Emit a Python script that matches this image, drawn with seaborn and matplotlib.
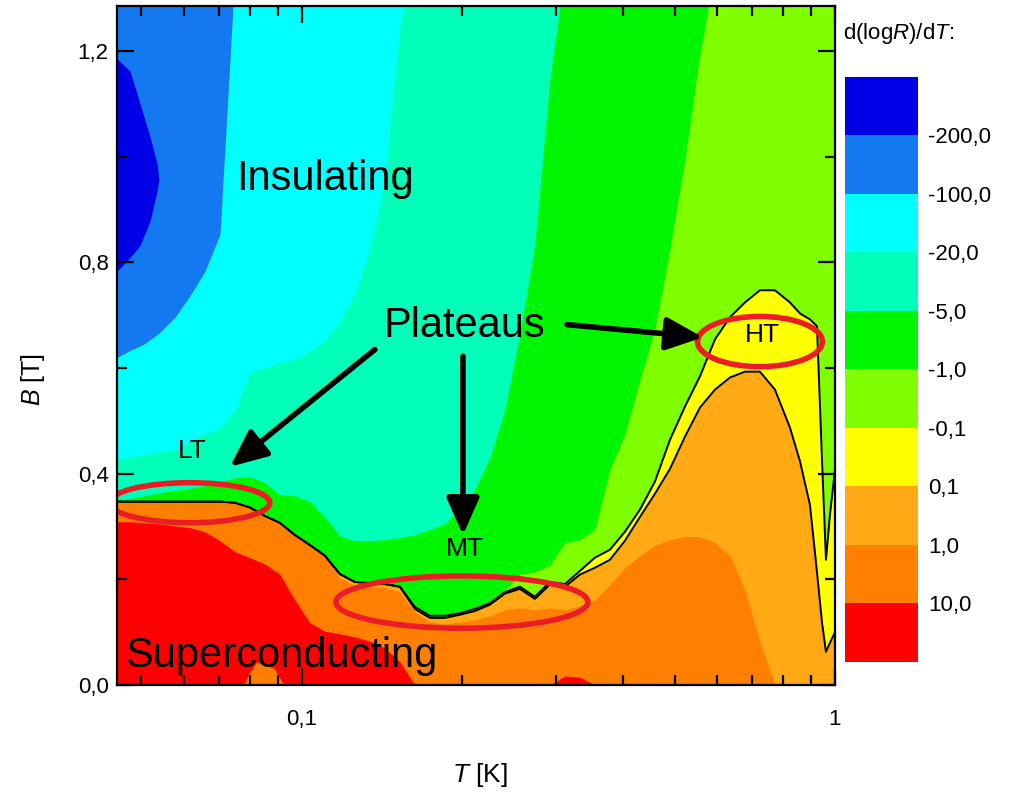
import numpy as np
import matplotlib
matplotlib.use("Agg")
import matplotlib.pyplot as plt
import matplotlib.cm as cm
import seaborn as sns
from matplotlib.colors import ListedColormap, BoundaryNorm
from matplotlib.patches import Ellipse
from matplotlib.ticker import NullFormatter

sns.set_style("ticks")
plt.rcParams["font.family"] = ["Liberation Sans", "DejaVu Sans"]
plt.rcParams["mathtext.fontset"] = "custom"
plt.rcParams["mathtext.rm"] = "Liberation Sans"
plt.rcParams["mathtext.it"] = "Liberation Sans:italic"
plt.rcParams["text.color"] = "black"
plt.rcParams["axes.labelcolor"] = "black"
plt.rcParams["xtick.color"] = "black"
plt.rcParams["ytick.color"] = "black"

# ---------------- data ----------------
# temperature columns [K]
T = [0.0450, 0.0476, 0.0507, 0.0541, 0.0578, 0.0616, 0.0658, 0.0702, 0.0749, 0.0799,
     0.0852, 0.0909, 0.0970, 0.1035, 0.1104, 0.1178, 0.1257, 0.1341, 0.1431, 0.1527,
     0.1629, 0.1738, 0.1854, 0.1979, 0.2111, 0.2253, 0.2404, 0.2564, 0.2736, 0.2919,
     0.3115, 0.3323, 0.3546, 0.3783, 0.4036, 0.4307, 0.4595, 0.4903, 0.5231, 0.5581,
     0.5955, 0.6354, 0.6779, 0.7232, 0.7717, 0.8233, 0.8600, 0.8976, 0.9252, 0.9454,
     0.9618, 0.9786, 1.0000]

# field B [T] of the level boundaries at each temperature (bottom -> top)
b_red = [0.309, 0.309, 0.307, 0.305, 0.301, 0.298, 0.290, 0.273, 0.252, 0.241,
         0.229, 0.210, 0.161, 0.118, 0.102, 0.097, 0.091, 0.083, 0.070, 0.044,
         0, 0, 0, 0, 0, 0, 0, 0, 0, 0,
         0.017, 0.015, 0, 0, 0, 0, 0, 0, 0, 0,
         0, 0, 0, 0, 0, 0, 0, 0, 0, 0,
         0, 0, 0]
b_orange = [0.347, 0.347, 0.347, 0.347, 0.347, 0.347, 0.347, 0.347, 0.345, 0.336,
            0.320, 0.307, 0.284, 0.265, 0.245, 0.203, 0.188, 0.186, 0.184, 0.176,
            0.138, 0.119, 0.116, 0.119, 0.123, 0.131, 0.142, 0.146, 0.142, 0.146,
            0.142, 0.150, 0.161, 0.190, 0.222, 0.245, 0.264, 0.275, 0.281, 0.281,
            0.269, 0.245, 0.180, 0.082, 0, 0, 0, 0, 0, 0,
            0, 0, 0]
b_lo_y = [0.347, 0.347, 0.347, 0.347, 0.347, 0.347, 0.347, 0.347, 0.345, 0.336,
          0.320, 0.307, 0.284, 0.265, 0.245, 0.210, 0.195, 0.193, 0.191, 0.186,
          0.144, 0.127, 0.127, 0.133, 0.140, 0.152, 0.173, 0.182, 0.163, 0.190,
          0.186, 0.209, 0.222, 0.237, 0.273, 0.318, 0.362, 0.409, 0.470, 0.525,
          0.559, 0.582, 0.593, 0.593, 0.559, 0.487, 0.423, 0.341, 0.214, 0.119,
          0.063, 0.080, 0.100]
b_y_lg = [0.347, 0.347, 0.347, 0.347, 0.347, 0.347, 0.347, 0.347, 0.345, 0.336,
          0.320, 0.307, 0.284, 0.265, 0.245, 0.210, 0.195, 0.193, 0.191, 0.186,
          0.148, 0.131, 0.131, 0.136, 0.144, 0.155, 0.176, 0.186, 0.167, 0.195,
          0.191, 0.216, 0.241, 0.256, 0.290, 0.332, 0.385, 0.464, 0.527, 0.584,
          0.654, 0.696, 0.724, 0.747, 0.747, 0.724, 0.703, 0.692, 0.679, 0.427,
          0.237, 0.322, 0.408]
b_lg_g = [0.347, 0.347, 0.347, 0.347, 0.347, 0.347, 0.347, 0.347, 0.345, 0.336,
          0.320, 0.307, 0.284, 0.265, 0.245, 0.210, 0.195, 0.193, 0.191, 0.186,
          0.148, 0.131, 0.131, 0.136, 0.144, 0.155, 0.180, 0.209, 0.214, 0.227,
          0.269, 0.275, 0.294, 0.408, 0.474, 0.578, 0.673, 0.825, 0.995, 1.194,
          1.35, 1.35, 1.35, 1.35, 1.35, 1.35, 1.35, 1.35, 1.35, 1.35,
          1.35, 1.35, 1.35]
b_g_a = [0.351, 0.353, 0.358, 0.364, 0.368, 0.372, 0.377, 0.385, 0.392, 0.394,
         0.383, 0.360, 0.358, 0.347, 0.318, 0.282, 0.273, 0.273, 0.275, 0.279,
         0.284, 0.294, 0.305, 0.332, 0.370, 0.430, 0.521, 0.664, 0.834, 1.147,
         1.35, 1.35, 1.35, 1.35, 1.35, 1.35, 1.35, 1.35, 1.35, 1.35,
         1.35, 1.35, 1.35, 1.35, 1.35, 1.35, 1.35, 1.35, 1.35, 1.35,
         1.35, 1.35, 1.35]
b_a_c = [0.427, 0.432, 0.436, 0.442, 0.445, 0.461, 0.476, 0.485, 0.521, 0.591,
         0.601, 0.609, 0.618, 0.631, 0.652, 0.688, 0.739, 0.825, 0.957, 1.25,
         1.35, 1.35, 1.35, 1.35, 1.35, 1.35, 1.35, 1.35, 1.35, 1.35,
         1.35, 1.35, 1.35, 1.35, 1.35, 1.35, 1.35, 1.35, 1.35, 1.35,
         1.35, 1.35, 1.35, 1.35, 1.35, 1.35, 1.35, 1.35, 1.35, 1.35,
         1.35, 1.35, 1.35]
b_c_b = [0.620, 0.633, 0.646, 0.667, 0.696, 0.736, 0.783, 0.853, 1.35, 1.35,
         1.35, 1.35, 1.35, 1.35, 1.35, 1.35, 1.35, 1.35, 1.35, 1.35,
         1.35, 1.35, 1.35, 1.35, 1.35, 1.35, 1.35, 1.35, 1.35, 1.35,
         1.35, 1.35, 1.35, 1.35, 1.35, 1.35, 1.35, 1.35, 1.35, 1.35,
         1.35, 1.35, 1.35, 1.35, 1.35, 1.35, 1.35, 1.35, 1.35, 1.35,
         1.35, 1.35, 1.35]

# dark-blue island (< -200) at the upper left
T_blob = [0.0450, 0.0476, 0.0497, 0.0519, 0.0535, 0.0539]
blob_low = [0.783, 0.809, 0.832, 0.878, 0.935, 0.957]
blob_high = [1.185, 1.162, 1.100, 1.037, 0.986, 0.957]

# small orange patch inside the red region at the bottom
T_patch = [0.0778, 0.0799, 0.0823, 0.0886, 0.0925]
patch_high = [0.0, 0.025, 0.044, 0.032, 0.0]

level_values = [-200, -100, -20, -5, -1, -0.1, 0.1, 1, 10]
level_labels = ["-200,0", "-100,0", "-20,0", "-5,0", "-1,0", "-0,1", "0,1", "1,0", "10,0"]
class_colors = ["#0000E6", "#1478F0", "#00FFFF", "#00FFB9", "#00F500",
                "#7FFF00", "#FFFF00", "#FFA914", "#FF8000", "#FF0000"]

# ---------------- figure ----------------
fig = plt.figure(figsize=(10.23, 7.97), dpi=100)
ax = fig.add_axes([0.1144, 0.1405, 0.7018, 0.852])
ax.set_xscale("log")
ax.set_xlim(0.045, 1.0)
ax.set_ylim(0, 1.285)

TOP = 1.35
Ta = np.array(T)
zeros = np.zeros(len(T))
lowers = [zeros, b_red, b_orange, b_lo_y, b_y_lg, b_lg_g, b_g_a, b_a_c, b_c_b]
cols_up = class_colors[::-1][:9]  # red ... blue
for low, col in zip(lowers, cols_up):
    ax.fill_between(Ta, np.array(low, float), TOP, color=col, lw=0, zorder=1)
ax.fill_between(T_blob, blob_low, blob_high, color=class_colors[0], lw=0, zorder=1.1)
ax.fill_between(T_patch, 0, patch_high, color=class_colors[8], lw=0, zorder=1.1)

sns.lineplot(x=Ta, y=b_lo_y, color="black", lw=1.4, ax=ax, zorder=2)
sns.lineplot(x=Ta, y=b_y_lg, color="black", lw=1.4, ax=ax, zorder=2)

# ticks
ax.set_xticks([0.1, 1.0], labels=["0,1", "1"])
ax.set_xticks([0.05, 0.06, 0.07, 0.08, 0.09, 0.2, 0.3, 0.4, 0.5, 0.6, 0.7, 0.8, 0.9], minor=True)
ax.xaxis.set_minor_formatter(NullFormatter())
ax.set_yticks([0, 0.4, 0.8, 1.2], labels=["0,0", "0,4", "0,8", "1,2"])
ax.set_yticks([0.2, 0.6, 1.0], minor=True)
ax.set_axisbelow(False)
ax.tick_params(which="both", direction="in", top=True, right=True, width=1.6, color="black")
ax.tick_params(which="major", length=12, labelsize=16, labelcolor="black")
ax.tick_params(axis="x", which="major", pad=17)
ax.tick_params(axis="y", which="major", pad=6)
ax.tick_params(which="minor", length=7)
for s in ax.spines.values():
    s.set_linewidth(1.6)
    s.set_color("black")
    s.set_zorder(5)

ax.set_xlabel("$T$ [K]", fontsize=19)
ax.set_ylabel("$B$ [T]", fontsize=18)
ax.xaxis.set_label_coords(0.506, -0.112)
ax.yaxis.set_label_coords(-0.097, 0.45)

# annotations
def data_to_axes(t, b):
    return ax.transAxes.inverted().transform(ax.transData.transform((t, b)))

ell_red = "#EC1C24"
for (t, b, w, h) in [(0.0616, 0.345, 0.223, 0.059), (0.1996, 0.157, 0.351, 0.077), (0.7232, 0.650, 0.174, 0.074)]:
    c = data_to_axes(t, b)
    ax.add_patch(Ellipse(c, w, h, transform=ax.transAxes, fill=False, ec=ell_red, lw=4, zorder=3))

ax.text(0.1104, 0.957, "Insulating", fontsize=30, ha="center", va="center", zorder=4)
ax.text(0.2022, 0.679, "Plateaus", fontsize=30, ha="center", va="center", zorder=4)
ax.text(0.0913, 0.055, "Superconducting", fontsize=30, ha="center", va="center", zorder=4)
ax.text(0.0623, 0.442, "LT", fontsize=19, ha="center", va="center", zorder=4)
ax.text(0.2022, 0.258, "MT", fontsize=19, ha="center", va="center", zorder=4)
ax.text(0.7323, 0.662, "HT", fontsize=19, ha="center", va="center", zorder=4)

arrow_kw = dict(arrowstyle="-|>,head_length=0.9,head_width=0.4", lw=4, color="black",
                mutation_scale=25, shrinkA=0, shrinkB=0)
for tail, tip in [((0.1371, 0.635), (0.0733, 0.413)),
                  ((0.2005, 0.622), (0.2005, 0.284)),
                  ((0.3143, 0.682), (0.5655, 0.658))]:
    ax.annotate("", xy=tip, xytext=tail, arrowprops=arrow_kw, zorder=4)

# colour bar
cax = fig.add_axes([0.826, 0.1694, 0.0714, 0.734])
cmap = ListedColormap(class_colors)
norm = BoundaryNorm([-400] + level_values + [30], cmap.N)
cb = fig.colorbar(cm.ScalarMappable(norm=norm, cmap=cmap), cax=cax, spacing="uniform",
                  ticks=level_values)
cb.ax.set_yticklabels(level_labels)
cb.ax.invert_yaxis()
cb.minorticks_off()
cb.outline.set_visible(False)
cb.ax.tick_params(which="both", length=0, labelsize=16, pad=7, labelcolor="black")
fig.text(0.824, 0.958, r"d$\left(\mathrm{log}\mathit{R}\right)$/d$\mathit{T}$:", fontsize=16,
         ha="left", va="center")

fig.savefig("out.png", dpi=100)
